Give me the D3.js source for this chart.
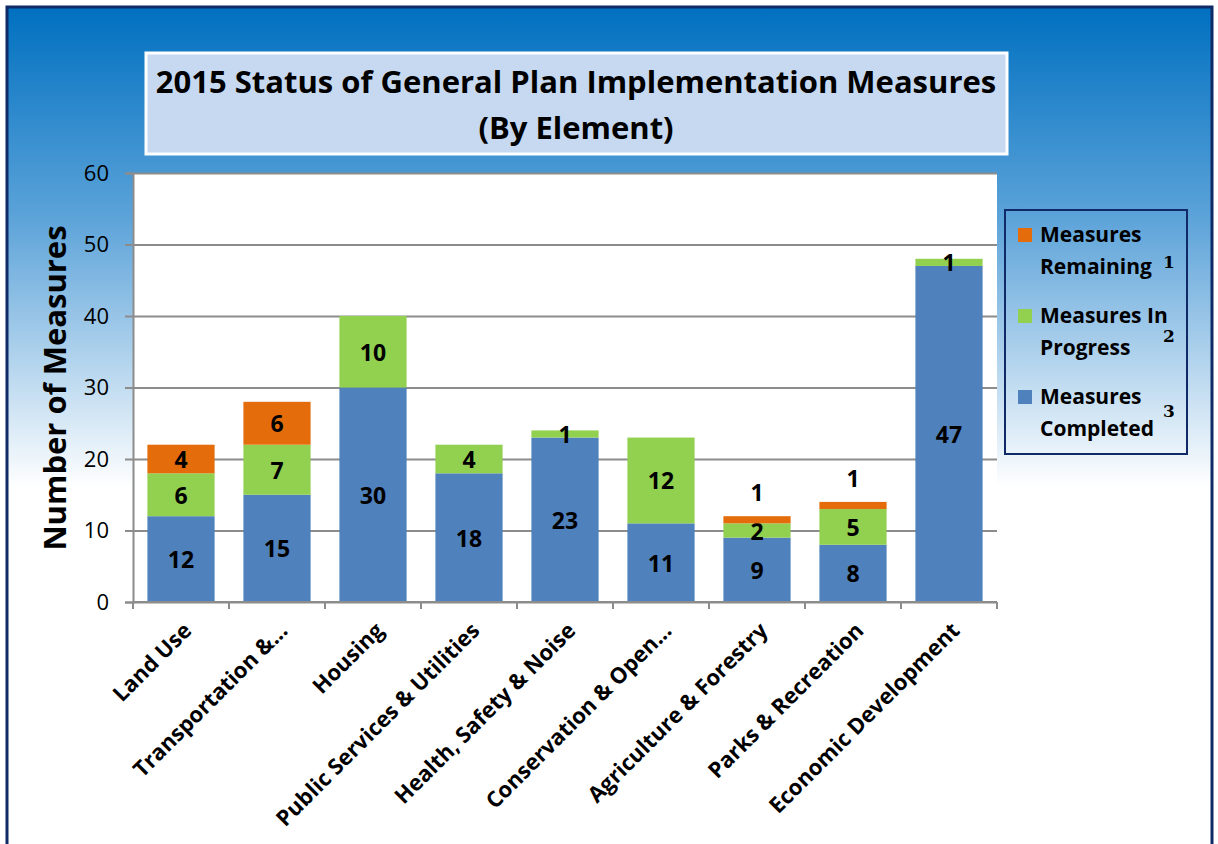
<!DOCTYPE html>
<html>
<head>
<meta charset="utf-8">
<script src="https://cdn.jsdelivr.net/npm/d3@7"></script>
<style>
  body { margin: 0; background: #fff; }
  svg text { font-family: "Open Sans", Lato, sans-serif; }
</style>
</head>
<body>
<svg id="chart"></svg>
<script>
var width = 1218,
  height = 844;

var categories = ['Land Use', 'Transportation &...', 'Housing', 'Public Services & Utilities',
  'Health, Safety & Noise', 'Conservation & Open...', 'Agriculture & Forestry',
  'Parks & Recreation', 'Economic Development'];
var completed = [12, 15, 30, 18, 23, 11, 9, 8, 47];
var inProgress = [6, 7, 10, 4, 1, 12, 2, 5, 1];
var remaining = [4, 6, 0, 0, 0, 0, 1, 1, 0];
var yTicks = [0, 10, 20, 30, 40, 50, 60];
var seriesNames = ['completed', 'inProgress', 'remaining'];
var legendItems = [
  { key: 'remaining', lines: ['Measures', 'Remaining'], note: '1' },
  { key: 'inProgress', lines: ['Measures In', 'Progress'], note: '2' },
  { key: 'completed', lines: ['Measures', 'Completed'], note: '3' }
];

var color = d3.scaleOrdinal()
  .domain(seriesNames)
  .range(['#4f81bd', '#92d050', '#e46c0a']);

var margin = { left: 133, right: 221, top: 173, bottom: 242 };

var svg = d3.select('#chart')
  .attr('width', width)
  .attr('height', height);

var defs = svg.append('defs');
var grad = defs.append('linearGradient')
  .attr('id', 'bg')
  .attr('x1', 0).attr('y1', 0).attr('x2', 0).attr('y2', 1);
grad.append('stop').attr('offset', '0%').attr('stop-color', '#0070c0');
grad.append('stop').attr('offset', '25%').attr('stop-color', '#5ca3d9');
grad.append('stop').attr('offset', '57%').attr('stop-color', '#ffffff');
grad.append('stop').attr('offset', '100%').attr('stop-color', '#ffffff');

// page background with navy frame
svg.append('rect')
  .attr('x', 7).attr('y', 7)
  .attr('width', width - 13).attr('height', height)
  .attr('fill', 'url(#bg)')
  .attr('stroke', '#0f2a66')
  .attr('stroke-width', 3);

// title box
svg.append('rect')
  .attr('x', 146).attr('y', 53)
  .attr('width', 861).attr('height', 101)
  .attr('fill', '#c6d9f1')
  .attr('stroke', '#ffffff')
  .attr('stroke-width', 3);

svg.append('text')
  .attr('x', 576).attr('y', 93)
  .attr('text-anchor', 'middle')
  .attr('font-size', 31)
  .attr('font-weight', 'bold')
  .text('2015 Status of General Plan Implementation Measures');

svg.append('text')
  .attr('x', 576).attr('y', 139)
  .attr('text-anchor', 'middle')
  .attr('font-size', 31)
  .attr('font-weight', 'bold')
  .text('(By Element)');

var plotW = width - margin.left - margin.right,
  plotH = height - margin.top - margin.bottom;

var x = d3.scaleBand()
  .domain(categories)
  .range([0, plotW])
  .paddingInner(0.3)
  .paddingOuter(0.15);

var y = d3.scaleLinear()
  .domain([0, 60])
  .range([plotH, 0]);

var g = svg.append('g')
  .attr('transform', 'translate(' + margin.left + ',' + margin.top + ')');

g.append('rect')
  .attr('width', plotW)
  .attr('height', plotH)
  .attr('fill', '#ffffff');

// gridlines
g.append('g')
  .attr('class', 'grid')
  .call(d3.axisLeft(y).tickValues(yTicks).tickSize(-plotW).tickFormat(''))
  .call(function(s) { s.select('.domain').remove(); })
  .selectAll('line')
  .attr('stroke', '#8c8c8c')
  .attr('stroke-width', 2);

var stackData = categories.map(function(c, i) {
  return { cat: c, completed: completed[i], inProgress: inProgress[i], remaining: remaining[i] };
});

var stack = d3.stack().keys(seriesNames)(stackData);

var layers = g.selectAll('.layer')
  .data(stack)
  .enter().append('g')
  .attr('class', 'layer')
  .attr('fill', function(d) { return color(d.key); });

layers.selectAll('rect')
  .data(function(d) { return d; })
  .enter().append('rect')
  .filter(function(d) { return d[1] - d[0] > 0; })
  .attr('x', function(d) { return x(d.data.cat); })
  .attr('y', function(d) { return y(d[1]); })
  .attr('width', x.bandwidth())
  .attr('height', function(d) { return y(d[0]) - y(d[1]); });

// y axis
var yAxis = g.append('g')
  .call(d3.axisLeft(y).tickValues(yTicks).tickSize(8).tickPadding(16));
yAxis.selectAll('line').attr('stroke', '#8c8c8c').attr('stroke-width', 2);
yAxis.select('.domain').attr('stroke', '#8c8c8c').attr('stroke-width', 2);
yAxis.selectAll('text')
  .attr('font-size', 22)
  .attr('fill', '#000')
  .style('font-family', '"Open Sans", sans-serif');

// x axis with ticks at category boundaries
var step = x.step();
var xAxis = g.append('g')
  .attr('transform', 'translate(0,' + plotH + ')');
xAxis.append('line')
  .attr('x1', 0).attr('x2', plotW)
  .attr('stroke', '#8c8c8c').attr('stroke-width', 2);
xAxis.selectAll('.tickb')
  .data(d3.range(categories.length + 1))
  .enter().append('line')
  .attr('class', 'tickb')
  .attr('x1', function(i) { return i * step; })
  .attr('x2', function(i) { return i * step; })
  .attr('y1', 0).attr('y2', 7)
  .attr('stroke', '#8c8c8c').attr('stroke-width', 2);

xAxis.selectAll('.xlab')
  .data(categories)
  .enter().append('text')
  .attr('class', 'xlab')
  .attr('text-anchor', 'end')
  .attr('font-size', 22)
  .attr('font-weight', 'bold')
  .attr('transform', function(d) {
    return 'translate(' + (x(d) + x.bandwidth() / 2 + 12) + ',30) rotate(-45)';
  })
  .text(function(d) { return d; });

// value labels
layers.selectAll('.val')
  .data(function(d) { return d.map(function(p) { return { p: p, key: d.key }; }); })
  .enter().append('text')
  .filter(function(d) { return d.p[1] - d.p[0] > 0; })
  .attr('class', 'val')
  .attr('text-anchor', 'middle')
  .attr('dominant-baseline', 'central')
  .attr('font-size', 23)
  .attr('font-weight', 'bold')
  .attr('fill', '#000')
  .attr('x', function(d) { return x(d.p.data.cat) + x.bandwidth() / 2; })
  .attr('y', function(d) {
    var h = y(d.p[0]) - y(d.p[1]);
    if (d.key === 'remaining' && h < 15) { return y(d.p[1]) - 24; }
    return y((d.p[0] + d.p[1]) / 2);
  })
  .text(function(d) { return d.p[1] - d.p[0]; });

// y axis title
svg.append('text')
  .attr('transform', 'translate(66,388) rotate(-90)')
  .attr('text-anchor', 'middle')
  .attr('font-size', 31)
  .attr('font-weight', 'bold')
  .text('Number of Measures');

// legend
var legend = svg.append('g')
  .attr('transform', 'translate(1005,210)');
legend.append('rect')
  .attr('width', 182)
  .attr('height', 244)
  .attr('fill', 'none')
  .attr('stroke', '#0f2a66')
  .attr('stroke-width', 2);

var li = legend.selectAll('.li')
  .data(legendItems)
  .enter().append('g')
  .attr('class', 'li')
  .attr('transform', function(d, i) { return 'translate(0,' + (i * 81) + ')'; });

li.append('rect')
  .attr('x', 13).attr('y', 18)
  .attr('width', 14).attr('height', 14)
  .attr('fill', function(d) { return color(d.key); });

li.selectAll('.ltxt')
  .data(function(d) { return d.lines; })
  .enter().append('text')
  .attr('class', 'ltxt')
  .attr('x', 35)
  .attr('y', function(d, i) { return 32 + i * 32; })
  .attr('font-size', 21)
  .attr('font-weight', 'bold')
  .text(function(d) { return d; });

li.append('text')
  .attr('x', 158)
  .attr('y', function(d, i) { return [58, 51, 45][i]; })
  .attr('font-size', 17)
  .attr('font-weight', 'bold')
  .style('font-family', '"DejaVu Serif", serif')
  .text(function(d) { return d.note; });
</script>
</body>
</html>
